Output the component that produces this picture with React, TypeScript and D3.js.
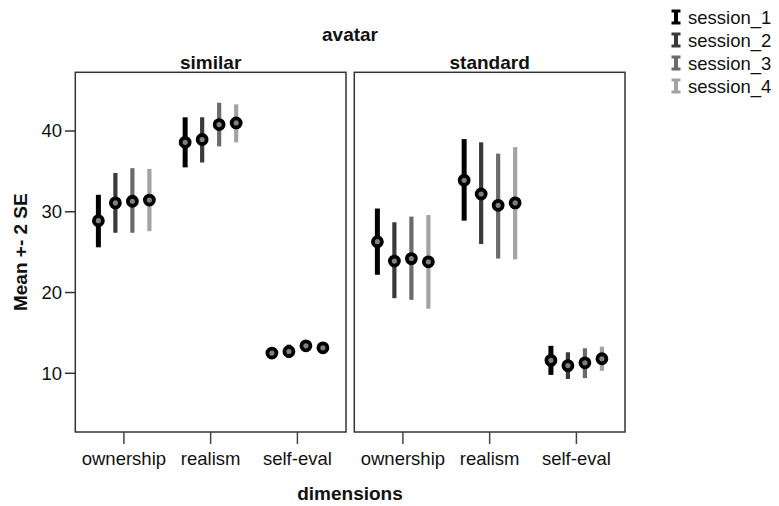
import React from "react";
import * as d3 from "d3";

const panels = ["similar", "standard"];
const categories = ["ownership", "realism", "self-eval"];
const sessions = ["session_1", "session_2", "session_3", "session_4"];
const yTicks = [10, 20, 30, 40];

// [category][session]
const similarMean = [
  [28.9, 31.1, 31.3, 31.45],
  [38.6, 38.95, 40.8, 41.0],
  [12.5, 12.7, 13.4, 13.15],
];
const similarLow = [
  [25.6, 27.4, 27.4, 27.6],
  [35.5, 36.1, 38.1, 38.6],
  [12.2, 11.9, 13.1, 12.85],
];
const similarHigh = [
  [32.1, 34.8, 35.4, 35.3],
  [41.7, 41.7, 43.5, 43.3],
  [12.8, 13.55, 13.7, 13.45],
];
const standardMean = [
  [26.3, 23.9, 24.2, 23.8],
  [33.9, 32.2, 30.8, 31.1],
  [11.6, 10.95, 11.3, 11.8],
];
const standardLow = [
  [22.2, 19.3, 19.1, 18.0],
  [28.9, 26.0, 24.2, 24.1],
  [9.8, 9.3, 9.4, 10.3],
];
const standardHigh = [
  [30.4, 28.7, 29.4, 29.6],
  [39.0, 38.6, 37.2, 38.0],
  [13.4, 12.6, 13.1, 13.3],
];

const panelMeans = [similarMean, standardMean];
const panelLows = [similarLow, standardLow];
const panelHighs = [similarHigh, standardHigh];

const sessionColors = ["#000000", "#3a3a3a", "#6b6b6b", "#a3a3a3"];
const sessionWidths = [5, 4.2, 4.2, 4.2];

const FONT = "'Liberation Sans', Arial, Helvetica, sans-serif";

export default function App() {
  const W = 779;
  const H = 506;
  const top = 72.3;
  const bottom = 432;
  const panelX = [75.3, 354.3];
  const panelW = 270.7;

  const y = d3.scaleLinear().domain([2.73, 47.27]).range([bottom, top]);
  const xCat = d3.scalePoint<string>().domain(categories).range([0, panelW]).padding(0.56);
  const xSess = d3.scalePoint<string>().domain(sessions).range([-25.5, 25.5]);

  return (
    <svg
      width={W}
      height={H}
      style={{ position: "absolute", left: 0, top: 0, background: "#fff" }}
      fontFamily={FONT}
    >
      <rect x={0} y={0} width={W} height={H} fill="#fff" />
      <text x={350} y={41} textAnchor="middle" fontSize={19} fontWeight="bold" fill="#111">
        avatar
      </text>
      {panels.map((p, pi) => {
        const x0 = panelX[pi];
        return (
          <g key={p}>
            <text
              x={x0 + panelW / 2}
              y={69}
              textAnchor="middle"
              fontSize={19}
              fontWeight="bold"
              fill="#111"
            >
              {p}
            </text>
            <rect
              x={x0}
              y={top}
              width={panelW}
              height={bottom - top}
              fill="none"
              stroke="#333"
              strokeWidth={1.5}
            />
            {categories.map((c) => (
              <g key={c}>
                <line
                  x1={x0 + (xCat(c) as number)}
                  x2={x0 + (xCat(c) as number)}
                  y1={bottom}
                  y2={bottom + 12}
                  stroke="#444"
                  strokeWidth={1.5}
                />
                <text
                  x={x0 + (xCat(c) as number)}
                  y={465}
                  textAnchor="middle"
                  fontSize={18.5}
                  fill="#111"
                >
                  {c}
                </text>
              </g>
            ))}
            {categories.map((c, ci) =>
              sessions.map((s, si) => {
                const cx = x0 + (xCat(c) as number) + (xSess(s) as number);
                return (
                  <line
                    key={c + s + "bar"}
                    x1={cx}
                    x2={cx}
                    y1={y(panelLows[pi][ci][si])}
                    y2={y(panelHighs[pi][ci][si])}
                    stroke={sessionColors[si]}
                    strokeWidth={sessionWidths[si]}
                  />
                );
              })
            )}
            {categories.map((c, ci) =>
              sessions.map((s, si) => {
                const cx = x0 + (xCat(c) as number) + (xSess(s) as number);
                return (
                  <circle
                    key={c + s + "pt"}
                    cx={cx}
                    cy={y(panelMeans[pi][ci][si])}
                    r={4.5}
                    fill="#808080"
                    stroke="#000"
                    strokeWidth={3.8}
                  />
                );
              })
            )}
          </g>
        );
      })}
      {/* Y axis */}
      {yTicks.map((t) => (
        <g key={t}>
          <line x1={65} x2={panelX[0]} y1={y(t)} y2={y(t)} stroke="#333" strokeWidth={1.5} />
          <text x={62} y={y(t)} dy="0.35em" textAnchor="end" fontSize={18.5} fill="#111">
            {t}
          </text>
        </g>
      ))}
      <text
        transform={`translate(27,${(top + bottom) / 2}) rotate(-90)`}
        textAnchor="middle"
        fontSize={19}
        fontWeight="bold"
        fill="#111"
      >
        Mean +- 2 SE
      </text>
      <text x={350} y={500} textAnchor="middle" fontSize={19} fontWeight="bold" fill="#111">
        dimensions
      </text>
      {/* Legend */}
      {sessions.map((s, si) => {
        const cy = 17 + si * 23;
        const lx = 676;
        return (
          <g key={s}>
            <line x1={lx} x2={lx} y1={cy - 7} y2={cy + 7} stroke={sessionColors[si]} strokeWidth={4} />
            <line x1={lx - 4.5} x2={lx + 4.5} y1={cy - 6} y2={cy - 6} stroke={sessionColors[si]} strokeWidth={3} />
            <line x1={lx - 4.5} x2={lx + 4.5} y1={cy + 6} y2={cy + 6} stroke={sessionColors[si]} strokeWidth={3} />
            <text x={688} y={cy} dy="0.36em" fontSize={18.5} fill="#111">
              {s}
            </text>
          </g>
        );
      })}
    </svg>
  );
}
